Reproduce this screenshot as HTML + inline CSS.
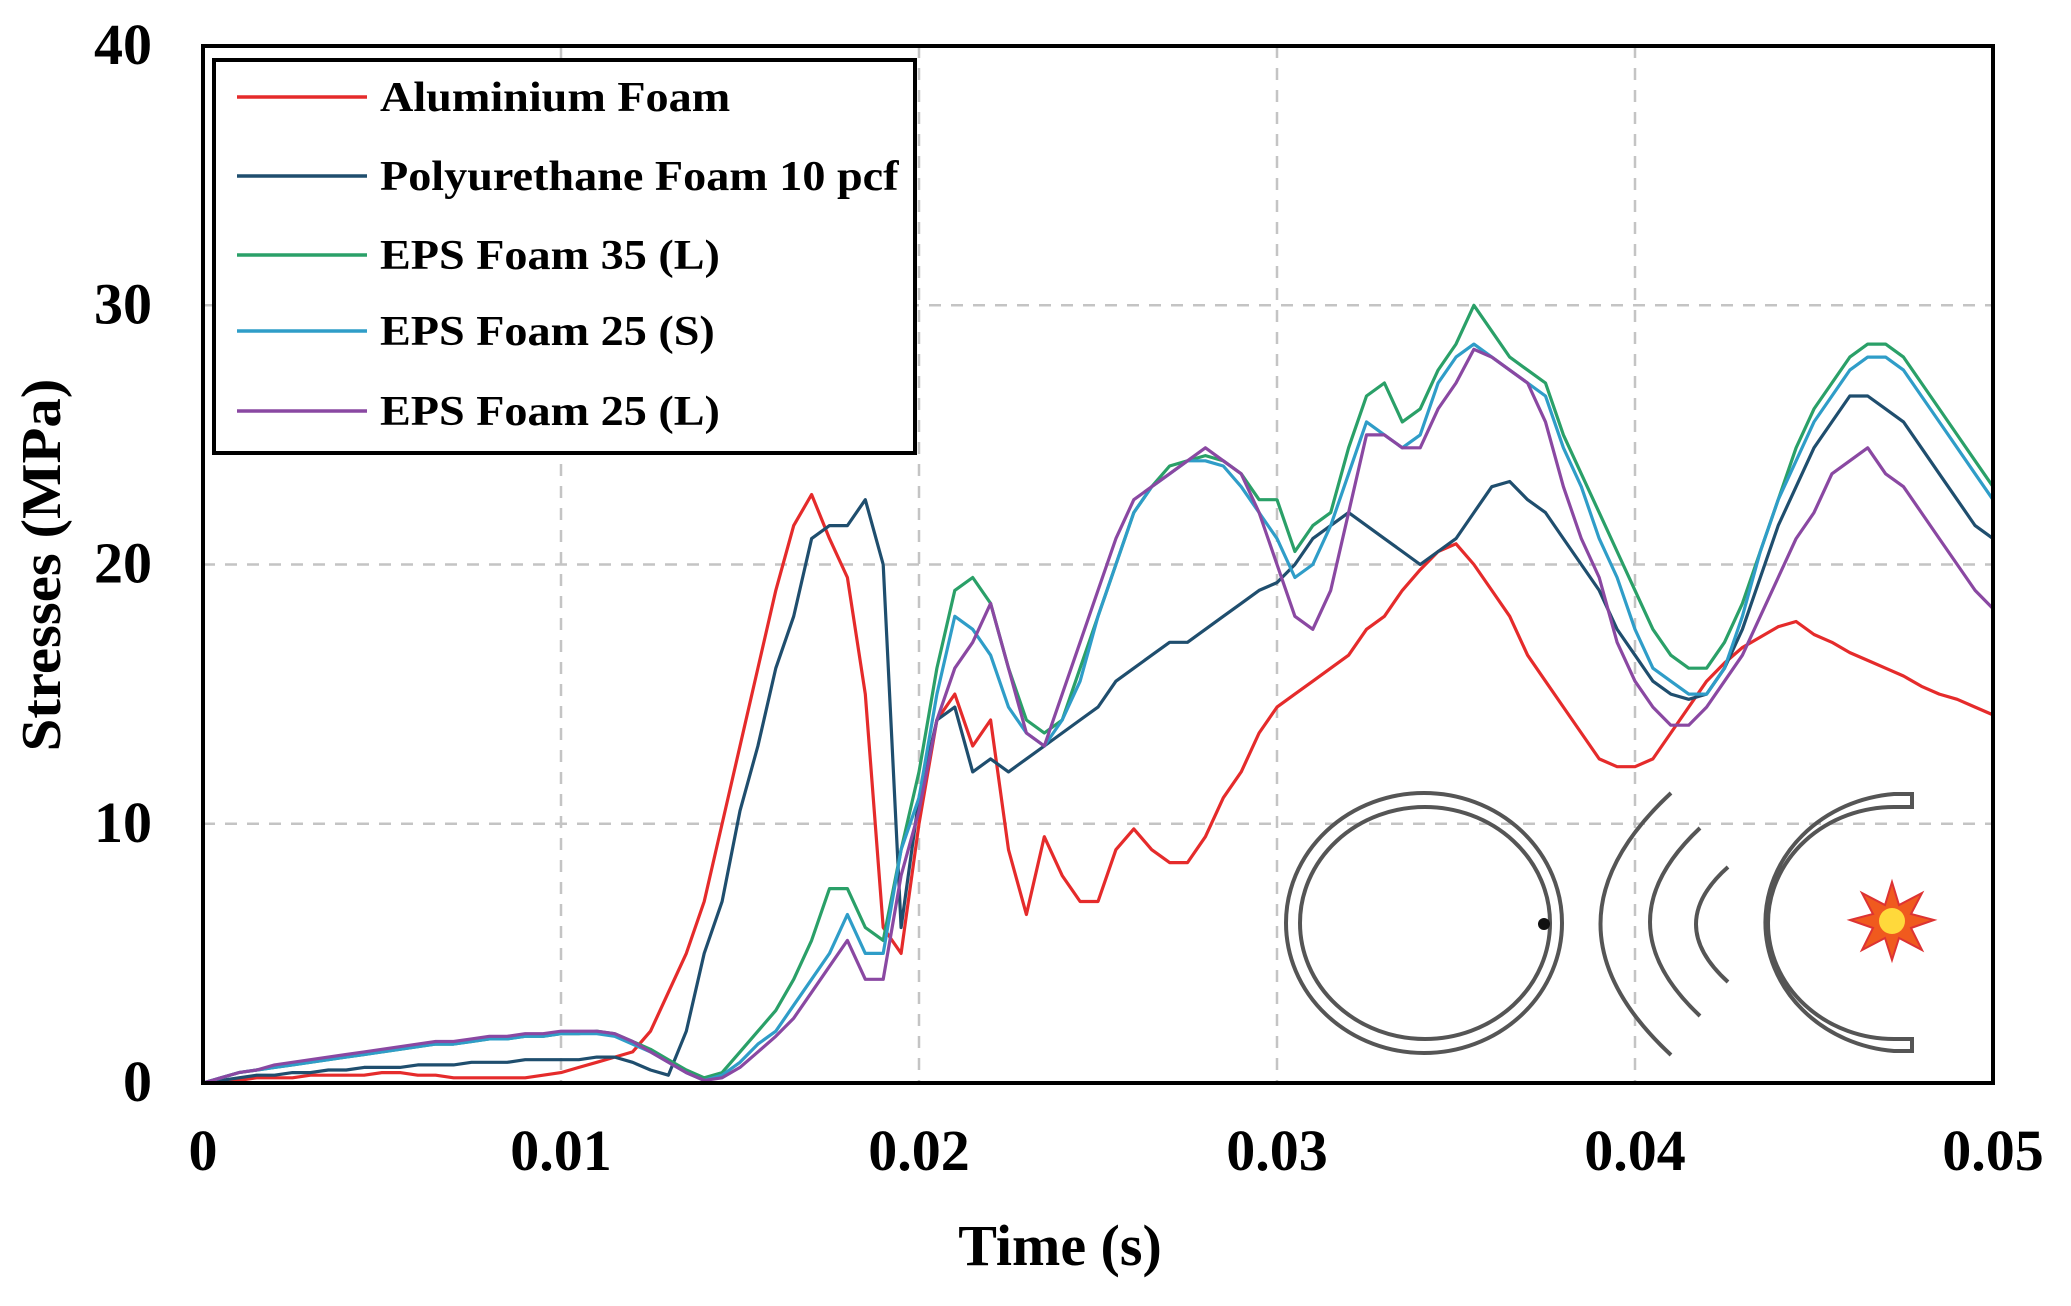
<!DOCTYPE html>
<html><head><meta charset="utf-8"><title>Stresses vs Time</title>
<style>
html,body{margin:0;padding:0;background:#fff;}
svg{display:block;font-family:"Liberation Serif","DejaVu Serif",serif;font-weight:bold;}
</style></head>
<body>
<svg id="chart" width="2071" height="1306" viewBox="0 0 2071 1306" xmlns="http://www.w3.org/2000/svg">
<rect x="0" y="0" width="2071" height="1306" fill="#fff"/>
<g id="grid"></g>
<g id="series"></g>
<g id="diagram" fill="none" stroke="#555" stroke-width="4">
  <ellipse cx="1424" cy="923" rx="138" ry="130"/>
  <ellipse cx="1425" cy="923" rx="125" ry="116"/>
  <circle cx="1544" cy="924" r="6" fill="#111" stroke="none"/>
  <path d="M1671 793 Q1530 924 1671 1055"/>
  <path d="M1700 828 Q1600 922 1700 1016"/>
  <path d="M1728 867 Q1664 924 1728 982"/>
  <path d="M1912 794 L1894 794 A141 129 0 0 0 1894 1051 L1912 1051 L1912 1039 L1894 1039 A126 116 0 0 1 1894 807 L1912 807 Z"/>
  <polygon points="1892,882 1899,905 1922,893 1911,914 1934,920 1911,928 1922,950 1899,938 1892,960 1885,938 1862,950 1873,928 1850,920 1873,914 1862,893 1885,905" fill="#f05a1e" stroke="#d33" stroke-width="2"/>
  <circle cx="1892" cy="921" r="13" fill="#ffd93b" stroke="none"/>
</g>
<rect x="203" y="46" width="1790" height="1037" fill="none" stroke="#000" stroke-width="4"/>
<g id="ticks"></g>
<g>
  <rect x="214" y="60" width="701" height="393" fill="#fff" stroke="#000" stroke-width="4"/>
  <g id="legend-entries"></g>
</g>
<text transform="translate(1060,1265) scale(1.0,1)" text-anchor="middle" font-size="58">Time (s)</text>
<text transform="translate(60,565) rotate(-90) scale(1.05,1)" text-anchor="middle" font-size="56">Stresses (MPa)</text>
</svg>
<script>
const times = [];
for (let i = 0; i <= 100; i++) times.push(i * 0.0005);
const xTicks = [0, 0.01, 0.02, 0.03, 0.04, 0.05];
const xTickLabels = ["0", "0.01", "0.02", "0.03", "0.04", "0.05"];
const yTicks = [0, 10, 20, 30, 40];
const yTickLabels = ["0", "10", "20", "30", "40"];
const seriesNames = ["Aluminium Foam", "Polyurethane Foam 10 pcf", "EPS Foam 35 (L)", "EPS Foam 25 (S)", "EPS Foam 25 (L)"];
const aluminium = [0,0.1,0.1,0.2,0.2,0.2,0.3,0.3,0.3,0.3,
 0.4,0.4,0.3,0.3,0.2,0.2,0.2,0.2,0.2,0.3,
 0.4,0.6,0.8,1.0,1.2,2,3.5,5,7,10,
 13,16,19,21.5,22.7,21,19.5,15,6,5,
 10,14,15,13,14,9,6.5,9.5,8,7,
 7,9,9.8,9,8.5,8.5,9.5,11,12,13.5,
 14.5,15,15.5,16,16.5,17.5,18,19,19.8,20.5,
 20.8,20,19,18,16.5,15.5,14.5,13.5,12.5,12.2,
 12.2,12.5,13.5,14.5,15.5,16.2,16.8,17.2,17.6,17.8,
 17.3,17,16.6,16.3,16,15.7,15.3,15,14.8,14.5,
 14.2];
const polyurethane = [0,0.1,0.2,0.3,0.3,0.4,0.4,0.5,0.5,0.6,
 0.6,0.6,0.7,0.7,0.7,0.8,0.8,0.8,0.9,0.9,
 0.9,0.9,1.0,1.0,0.8,0.5,0.3,2,5,7,
 10.5,13,16,18,21,21.5,21.5,22.5,20,6,
 11,14,14.5,12,12.5,12,12.5,13,13.5,14,
 14.5,15.5,16,16.5,17,17,17.5,18,18.5,19,
 19.3,20,21,21.5,22,21.5,21,20.5,20,20.5,
 21,22,23,23.2,22.5,22,21,20,19,17.5,
 16.5,15.5,15,14.8,15,16,17.5,19.5,21.5,23,
 24.5,25.5,26.5,26.5,26,25.5,24.5,23.5,22.5,21.5,
 21];
const eps35L = [0,0.2,0.4,0.5,0.6,0.7,0.8,0.9,1.0,1.1,
 1.2,1.3,1.4,1.5,1.5,1.6,1.7,1.7,1.8,1.8,
 1.9,1.9,2.0,1.9,1.6,1.3,0.9,0.5,0.2,0.4,
 1.2,2,2.8,4,5.5,7.5,7.5,6,5.5,9,
 12,16,19,19.5,18.5,16,14,13.5,14,16,
 18,20,22,23,23.8,24,24.2,24,23.5,22.5,
 22.5,20.5,21.5,22,24.5,26.5,27,25.5,26,27.5,
 28.5,30,29,28,27.5,27,25,23.5,22,20.5,
 19,17.5,16.5,16,16,17,18.5,20.5,22.5,24.5,
 26,27,28,28.5,28.5,28,27,26,25,24,
 23];
const eps25S = [0,0.2,0.4,0.5,0.6,0.7,0.8,0.9,1.0,1.1,
 1.2,1.3,1.4,1.5,1.5,1.6,1.7,1.7,1.8,1.8,
 1.9,1.9,1.9,1.8,1.5,1.2,0.8,0.4,0.1,0.3,
 0.8,1.5,2,3,4,5,6.5,5,5,9,
 11,15,18,17.5,16.5,14.5,13.5,13,14,15.5,
 18,20,22,23,23.5,24,24,23.8,23,22,
 21,19.5,20,21.5,23.5,25.5,25,24.5,25,27,
 28,28.5,28,27.5,27,26.5,24.5,23,21,19.5,
 17.5,16,15.5,15,15,16,18,20.5,22.5,24,
 25.5,26.5,27.5,28,28,27.5,26.5,25.5,24.5,23.5,
 22.5];
const eps25L = [0,0.2,0.4,0.5,0.7,0.8,0.9,1.0,1.1,1.2,
 1.3,1.4,1.5,1.6,1.6,1.7,1.8,1.8,1.9,1.9,
 2.0,2.0,2.0,1.9,1.6,1.2,0.8,0.4,0.1,0.2,
 0.6,1.2,1.8,2.5,3.5,4.5,5.5,4,4,8,
 10.5,14,16,17,18.5,16,13.5,13,15,17,
 19,21,22.5,23,23.5,24,24.5,24,23.5,22,
 20,18,17.5,19,22,25,25,24.5,24.5,26,
 27,28.3,28,27.5,27,25.5,23,21,19.5,17,
 15.5,14.5,13.8,13.8,14.5,15.5,16.5,18,19.5,21,
 22,23.5,24,24.5,23.5,23,22,21,20,19,
 18.3];

const NS = "http://www.w3.org/2000/svg";
const X0 = 203, X1 = 1993, Y0 = 1083, Y1 = 46;
function xScale(t){ return X0 + (t - 0) / 0.05 * (X1 - X0); }
function yScale(v){ return Y0 - (v - 0) / 40 * (Y0 - Y1); }
function mk(tag, attrs){ const e = document.createElementNS(NS, tag); for (const k in attrs) e.setAttribute(k, attrs[k]); return e; }

const grid = document.getElementById("grid");
xTicks.forEach((t, i) => {
  if (i === 0 || i === xTicks.length - 1) return;
  const l = mk("line", {x1: xScale(t), x2: xScale(t), y1: Y1, y2: Y0, stroke: "#c4c4c4", "stroke-width": 2.5, "stroke-dasharray": "12 10"});
  
  
  grid.appendChild(l);
});
yTicks.forEach((v, i) => {
  if (i === 0 || i === yTicks.length - 1) return;
  const l = mk("line", {x1: X0, x2: X1, y1: yScale(v), y2: yScale(v), stroke: "#c4c4c4", "stroke-width": 2.5, "stroke-dasharray": "12 10"});
  
  
  grid.appendChild(l);
});

const ticks = document.getElementById("ticks");
xTicks.forEach((t, i) => {
  const tx = mk("text", {transform: "translate(" + xScale(t) + ",1170) scale(1.0,1)", "text-anchor": "middle", "font-size": 58});
  tx.textContent = xTickLabels[i];
  
  
  ticks.appendChild(tx);
});
yTicks.forEach((v, i) => {
  const tx = mk("text", {transform: "translate(152," + (yScale(v) + 18) + ") scale(1.0,1)", "text-anchor": "end", "font-size": 58});
  tx.textContent = yTickLabels[i];
  
  
  ticks.appendChild(tx);
});

const allSeries = [aluminium, polyurethane, eps35L, eps25S, eps25L];
const colors = ["#e52b2b", "#1f4e6e", "#2aa068", "#2f9dc8", "#8a48a2"];
const slugs = ["aluminium-foam-line", "polyurethane-foam-line", "eps-35l-line", "eps-25s-line", "eps-25l-line"];
const sg = document.getElementById("series");
allSeries.forEach((vals, s) => {
  const d = vals.map((v, i) => (i ? "L" : "M") + xScale(times[i]).toFixed(1) + " " + yScale(v).toFixed(1)).join(" ");
  const p = mk("path", {d: d, fill: "none", stroke: colors[s], "stroke-width": 3.2, "stroke-linejoin": "round"});
  
  
  sg.appendChild(p);
});

const lg = document.getElementById("legend-entries");
const legendY = [97, 176, 255, 331, 411];
seriesNames.forEach((n, s) => {
  const g = mk("g", {});
  
  
  const l = mk("line", {x1: 237, x2: 367, y1: legendY[s], y2: legendY[s], stroke: colors[s], "stroke-width": 3.5});
  
  
  const t = mk("text", {transform: "translate(380," + (legendY[s] + 14) + ") scale(1.1,1)", "font-size": 42});
  t.textContent = n;
  
  
  g.appendChild(l); g.appendChild(t); lg.appendChild(g);
});
</script>
</body></html>
